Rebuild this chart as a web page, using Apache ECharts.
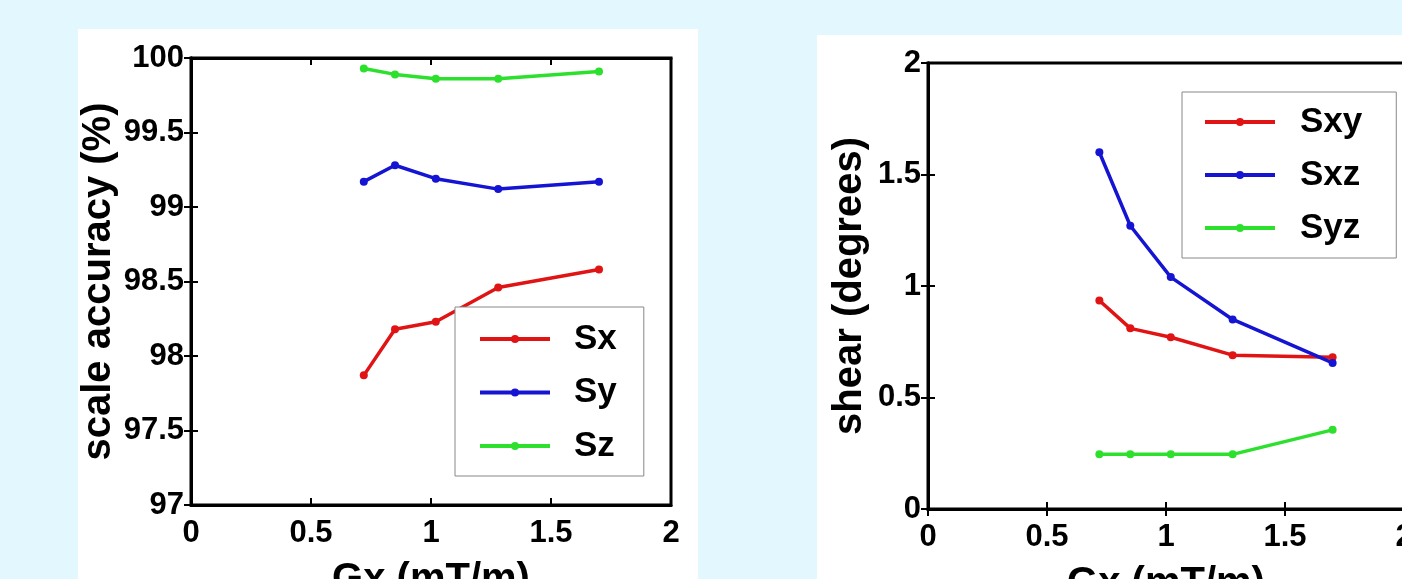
<!DOCTYPE html>
<html>
<head>
<meta charset="utf-8">
<script src="https://cdn.jsdelivr.net/npm/echarts@6/dist/echarts.min.js"></script>
<style>
html,body{margin:0;padding:0;background:#e3f7fe;}
#c{width:1402px;height:579px;}
</style>
</head>
<body>
<div id="c"></div>
<script>
// ---- data ----
var gx = [0.72, 0.85, 1.02, 1.28, 1.70];
var sx = [97.87, 98.18, 98.23, 98.46, 98.58];
var sy = [99.17, 99.28, 99.19, 99.12, 99.17];
var sz = [99.93, 99.89, 99.86, 99.86, 99.91];
var sxy = [0.935, 0.81, 0.77, 0.69, 0.68];
var sxz = [1.60, 1.27, 1.04, 0.85, 0.655];
var syz = [0.245, 0.245, 0.245, 0.245, 0.355];
var scaleNames = ['Sx', 'Sy', 'Sz'];
var shearNames = ['Sxy', 'Sxz', 'Syz'];
var xName = 'Gx (mT/m)';
var yNameLeft = 'scale accuracy (%)';
var yNameRight = 'shear (degrees)';

var RED = '#e01414', BLUE = '#1414d2', GREEN = '#2ee02e';
var FONT = '"Liberation Sans", Arial, Helvetica, sans-serif';

function pairs(xs, ys) { return xs.map(function (x, i) { return [x, ys[i]]; }); }

function lineSeries(name, data, color, xi, yi) {
  return {
    name: name, type: 'line', xAxisIndex: xi, yAxisIndex: yi,
    data: pairs(gx, data),
    symbol: 'circle', symbolSize: 8,
    lineStyle: { color: color, width: 3.5 },
    itemStyle: { color: color },
    z: 3
  };
}

var tickLabel = { fontFamily: FONT, fontWeight: 'bold', fontSize: 31, color: '#000' };
var nameStyle = { fontFamily: FONT, fontWeight: 'bold', fontSize: 40, color: '#000' };
var axLine = { show: true, lineStyle: { color: '#000', width: 3 } };
var tick = { show: true, inside: true, length: 7, lineStyle: { color: '#000', width: 2 } };

function mainX(gi) {
  return {
    type: 'value', gridIndex: gi, position: 'bottom', min: 0, max: 2, interval: 0.5,
    axisLine: axLine, axisTick: tick, splitLine: { show: false },
    axisLabel: Object.assign({ margin: 13 }, tickLabel),
    name: xName, nameLocation: 'middle', nameGap: 55, nameTextStyle: nameStyle
  };
}
function topX(gi) {
  return {
    type: 'value', gridIndex: gi, position: 'top', min: 0, max: 2, interval: 0.5,
    axisLine: axLine, axisTick: tick, splitLine: { show: false }, axisLabel: { show: false }
  };
}
function mainY(gi, min, max, name, gap) {
  return {
    type: 'value', gridIndex: gi, position: 'left', min: min, max: max, interval: 0.5,
    axisLine: axLine, axisTick: tick, splitLine: { show: false },
    axisLabel: Object.assign({ margin: 7 }, tickLabel),
    name: name, nameLocation: 'middle', nameGap: gap, nameTextStyle: nameStyle
  };
}
function rightY(gi, min, max) {
  return {
    type: 'value', gridIndex: gi, position: 'right', min: min, max: max, interval: 0.5,
    axisLine: axLine, axisTick: tick, splitLine: { show: false }, axisLabel: { show: false }
  };
}

var legendText = { fontFamily: FONT, fontWeight: 'bold', fontSize: 35, color: '#000', lineHeight: 40 };

var option = {
  animation: false,
  backgroundColor: '#e3f7fe',
  graphic: [
    { type: 'rect', shape: { x: 78, y: 29, width: 620, height: 560 }, style: { fill: '#fff' }, z: -10 },
    { type: 'rect', shape: { x: 817, y: 35, width: 600, height: 560 }, style: { fill: '#fff' }, z: -10 }
  ],
  grid: [
    { left: 191, top: 58, width: 480, height: 447, show: true, borderColor: '#000', borderWidth: 3, backgroundColor: 'transparent', containLabel: false, outerBoundsMode: 'none' },
    { left: 928, top: 63, width: 476, height: 446, show: true, borderColor: '#000', borderWidth: 3, backgroundColor: 'transparent', containLabel: false, outerBoundsMode: 'none' }
  ],
  xAxis: [mainX(0), topX(0), mainX(1), topX(1)],
  yAxis: [mainY(0, 97, 100, yNameLeft, 72), rightY(0, 97, 100), mainY(1, 0, 2, yNameRight, 58), rightY(1, 0, 2)],
  legend: [
    {
      data: scaleNames, orient: 'vertical', left: 455, top: 307,
      itemWidth: 70, itemHeight: 10, itemGap: 13.5,
      padding: [12, 27, 10, 23],
      backgroundColor: '#fff', borderColor: '#888', borderWidth: 1,
      lineStyle: { width: 4 },
      textStyle: Object.assign({ padding: [0, 0, 0, 19] }, legendText),
      z: 10
    },
    {
      data: shearNames, orient: 'vertical', left: 1182, top: 92,
      itemWidth: 70, itemHeight: 10, itemGap: 13,
      padding: [10, 34, 10, 21],
      backgroundColor: '#fff', borderColor: '#888', borderWidth: 1,
      lineStyle: { width: 4 },
      textStyle: Object.assign({ padding: [0, 0, 0, 20] }, legendText),
      z: 10
    }
  ],
  series: [
    lineSeries(scaleNames[0], sx, RED, 0, 0),
    lineSeries(scaleNames[1], sy, BLUE, 0, 0),
    lineSeries(scaleNames[2], sz, GREEN, 0, 0),
    lineSeries(shearNames[0], sxy, RED, 2, 2),
    lineSeries(shearNames[1], sxz, BLUE, 2, 2),
    lineSeries(shearNames[2], syz, GREEN, 2, 2)
  ]
};

var chart = echarts.init(document.getElementById('c'), null, { renderer: 'canvas' });
chart.setOption(option);
</script>
</body>
</html>
